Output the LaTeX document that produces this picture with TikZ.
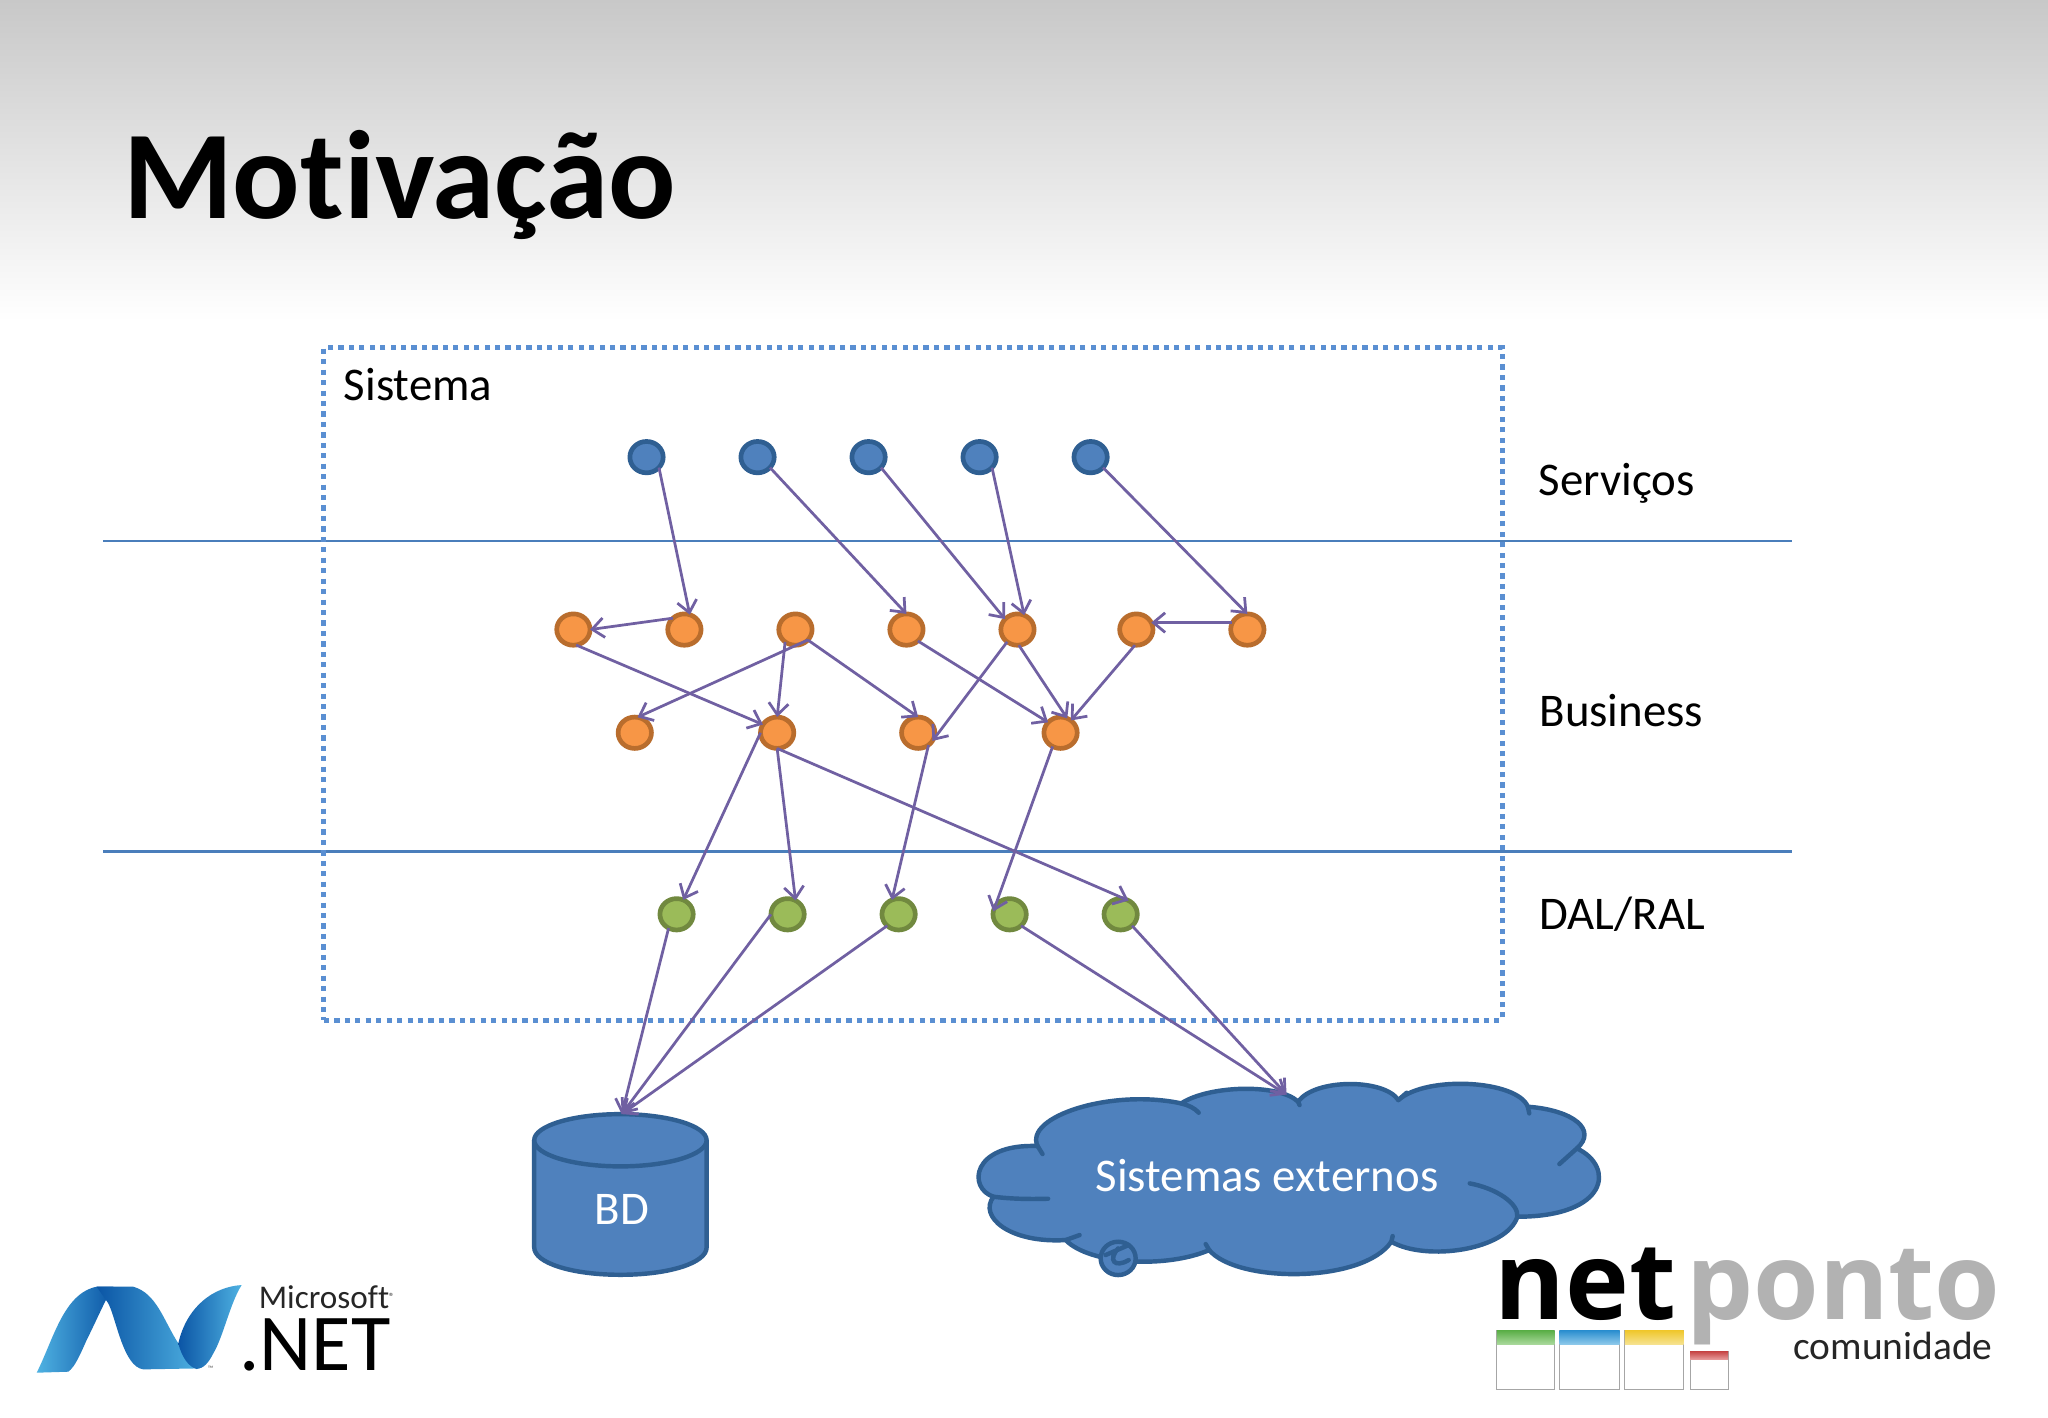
\documentclass[tikz,border=0pt]{standalone}
\usepackage{fontspec}
\setmainfont[Ligatures=NoCommon]{Carlito}
\newfontfamily\opensans{Open Sans}
\usetikzlibrary{shapes.geometric,arrows.meta}
\definecolor{hdr}{HTML}{C8C8C8}
\definecolor{acc}{HTML}{4F81BD}
\definecolor{accd}{HTML}{2F5F92}
\definecolor{blueline}{HTML}{4A7EBB}
\definecolor{boxdot}{HTML}{5A8FD2}
\definecolor{org}{HTML}{F79646}
\definecolor{orgd}{HTML}{B96D2D}
\definecolor{grn}{HTML}{9BBB59}
\definecolor{grnd}{HTML}{71893F}
\definecolor{purp}{HTML}{7060A2}
\definecolor{wga}{HTML}{5DB04A}
\definecolor{wgb}{HTML}{A8D89A}
\definecolor{wba}{HTML}{2E90D0}
\definecolor{wbb}{HTML}{8CC8EA}
\definecolor{wya}{HTML}{F0C830}
\definecolor{wyb}{HTML}{F6E28E}
\definecolor{wra}{HTML}{C84A4A}
\definecolor{wrb}{HTML}{E8A0A0}
\definecolor{ribd}{HTML}{0B55A5}
\definecolor{ribm}{HTML}{1172BE}
\definecolor{ribl}{HTML}{4FB2E2}
\tikzset{
  dot/.style={ellipse,draw,line width=3.6bp,minimum width=25.5bp,minimum height=24bp,inner sep=0pt,outer sep=0pt},
  bn/.style={dot,fill=acc,draw=accd},
  on/.style={dot,fill=org,draw=orgd},
  gn/.style={dot,fill=grn,draw=grnd},
  arr/.style={-{Straight Barb[length=9bp,width=15bp]},draw=purp,line width=2.1bp},
  sep/.style={draw=blueline,line width=1.8bp},
  lbl/.style={anchor=base west,inner sep=0pt,font=\fontsize{36}{40}\selectfont,text=black},
  wlbl/.style={inner sep=0pt,text=white,font=\fontsize{36}{40}\selectfont},
  cloudline/.style={draw=accd,line width=3.4bp}
}
\begin{document}
\begin{tikzpicture}[x=1bp,y=-1bp]
\useasboundingbox (0,0) rectangle (1568,1085.6);
\fill[white] (0,0) rectangle (1568,1085.6);
\shade[top color=hdr,bottom color=white] (0,0) rectangle (1568,246);
\node[anchor=base west,inner sep=0pt,font=\bfseries\fontsize{96.6}{100}\selectfont] (title) at (94,167) {Motivação};

% box and separators
\coordinate (sl1) at (79,414); \coordinate (sr1) at (1372,414);
\coordinate (sl2) at (79,652); \coordinate (sr2) at (1372,652);
\draw[sep] (sl1) -- (sr1);
\draw[sep] (sl2) -- (sr2);
\node[draw=boxdot,line width=3.8bp,dash pattern=on 4bp off 4bp,minimum width=902bp,minimum height=515bp,inner sep=0pt,outer sep=0pt] (box) at (699,523.5) {};
\node[lbl] (lsis) at (263,307) {Sistema};
\node[lbl] (lser) at (1178,379) {Serviços};
\node[lbl] (lbus) at (1178.5,556) {Business};
\node[lbl] (ldal) at (1178.5,712) {DAL/RAL};

% nodes
\foreach \n/\x in {b1/495,b2/580,b3/665,b4/750,b5/835} \node[bn] (\n) at (\x,350) {};
\foreach \n/\x in {o1/439,o2/524,o3/609,o4/694,o5/779,o6/870,o7/955} \node[on] (\n) at (\x,482) {};
\foreach \n/\x in {p1/486,p2/595,p3/703,p4/812} \node[on] (\n) at (\x,561) {};
\foreach \n/\x in {g1/518,g2/603,g3/688,g4/773,g5/858} \node[gn] (\n) at (\x,700) {};

% database
\draw[cloudline,fill=acc] (409,873) -- (409,955) .. controls (409,967) and (438,976) .. (475,976) .. controls (512,976) and (541,967) .. (541,955) -- (541,873);
\draw[cloudline,fill=acc] (475,873) ellipse[x radius=66,y radius=20];
\node[wlbl] (bd) at (476,926) {BD};
\coordinate (bdtop) at (476,853);

% cloud
\begin{scope}[shift={(727.4,811.6)},x=0.5362bp,y=-0.2552bp]
\draw[cloudline,fill=acc,line join=round]
  (125,258) .. controls (105,170) and (230,85) .. (330,130)
  .. controls (370,75) and (470,70) .. (497,125)
  .. controls (520,55) and (620,55) .. (640,120)
  .. controls (680,45) and (810,60) .. (825,140)
  .. controls (890,150) and (925,210) .. (895,265)
  .. controls (950,320) and (940,470) .. (810,470)
  .. controls (795,570) and (680,605) .. (630,545)
  .. controls (590,670) and (410,670) .. (370,570)
  .. controls (310,625) and (200,615) .. (165,540)
  .. controls (85,550) and (40,470) .. (62,410)
  .. controls (25,385) and (30,250) .. (125,258) -- cycle;
\draw[cloudline,line cap=round]
  (330,130) .. controls (340,135) and (350,145) .. (355,158)
  (497,125) -- (499,135)
  (640,120) -- (652,98)
  (825,140) -- (827,160)
  (895,265) -- (870,312)
  (810,470) .. controls (812,430) and (780,385) .. (742,370)
  (630,545) -- (632,528)
  (370,570) -- (365,552)
  (165,540) -- (185,525)
  (62,410) .. controls (85,416) and (110,418) .. (140,416)
  (125,258) -- (132,282);
\draw[cloudline,fill=acc] (240,595) ellipse[x radius=25,y radius=50];
\draw[cloudline,line cap=round] (222,585) -- (255,555) (240,565) .. controls (225,600) and (235,625) .. (255,600);
\end{scope}
\node[wlbl] (cloudtxt) at (970,900) {Sistemas externos};
\coordinate (cloudtop) at (985,838);

% connectors
\foreach \a/\b in {b1.-40/o2.70,b2.-40/o4.90,b3.-40/o5.140,b4.-40/o5.65,b5.-40/o7.90,
  o2.135/o1.east,o7.155/o6.25,
  o1.-80/p2.150,o3.-40/p1.80,o3.-130/p2.90,o3.-40/p3.90,o4.-45/p4.140,o5.-85/p4.65,o6.-95/p4.50,
  o5.-130/p3.-30,
  p3.-50/g3.115,p2.180/g1.65,p2.-90/g2.60,p2.-90/g5.60,p4.-120/g4.170}
  \draw[arr] (\a) -- (\b);
\foreach \a/\b in {g1.-120/bdtop,g2.180/bdtop,g3.-135/bdtop,g4.-45/cloudtop,g5.-45/cloudtop}
  \draw[arr] (\a) -- (\b);

% .NET logo
\begin{scope}[shift={(0,949.4)},x=0.2552bp,y=-0.2552bp]
\shade[left color=ribl,right color=ribd]
  (110,398) .. controls (160,300) and (190,160) .. (290,140) -- (340,140)
  .. controls (320,170) and (290,240) .. (260,300) .. controls (240,345) and (225,380) .. (205,395) -- cycle;
\shade[left color=ribd,right color=ribl]
  (290,140) -- (400,140) .. controls (470,160) and (490,240) .. (535,310)
  .. controls (555,350) and (575,375) .. (600,385) -- (430,388)
  .. controls (370,380) and (350,240) .. (325,190) -- cycle;
\shade[left color=ribd,right color=ribl]
  (535,310) .. controls (560,200) and (640,140) .. (725,135)
  .. controls (690,190) and (670,290) .. (640,340) .. controls (625,370) and (610,385) .. (590,387)
  .. controls (565,380) and (545,350) .. (535,310) -- cycle;
\end{scope}
\node[anchor=base west,inner sep=0pt,font=\fontsize{6}{7}\selectfont,text=black!60] (tm) at (159,1050) {™};
\node[anchor=base west,inner sep=0pt,font=\fontsize{25.5}{30}\selectfont,text=black!85] (msft) at (198,1002) {Microsoft\raisebox{6bp}{\fontsize{8}{9}\selectfont ®}};
\node[anchor=base west,inner sep=0pt,font=\fontsize{62}{70}\selectfont] (dotnet) at (183,1049) {.NET};

% netponto logo
\node[anchor=base west,inner sep=0pt,font=\opensans\bfseries\fontsize{83}{90}\selectfont] (net) at (1144,1010) {net};
\node[anchor=base west,inner sep=0pt,font=\opensans\bfseries\fontsize{81.5}{90}\selectfont,text=black!30] (ponto) at (1291,1010) {ponto};
\node[anchor=base west,inner sep=0pt,font=\fontsize{30.3}{34}\selectfont,text=black!85] (comu) at (1373,1041) {comunidade};
\foreach \xa/\xb/\ya/\yb/\ca/\cb in {1146/1190/1019/1029/wga/wgb,1194/1240/1019/1029/wba/wbb,1244/1289/1019/1029/wya/wyb,1294/1323/1035/1041/wra/wrb}{
  \draw[black!35,line width=0.8bp,fill=white] (\xa,\ya) rectangle (\xb,1064);
  \shade[top color=\ca,bottom color=\cb] (\xa,\ya) rectangle (\xb,\yb);
}
\end{tikzpicture}
\end{document}
